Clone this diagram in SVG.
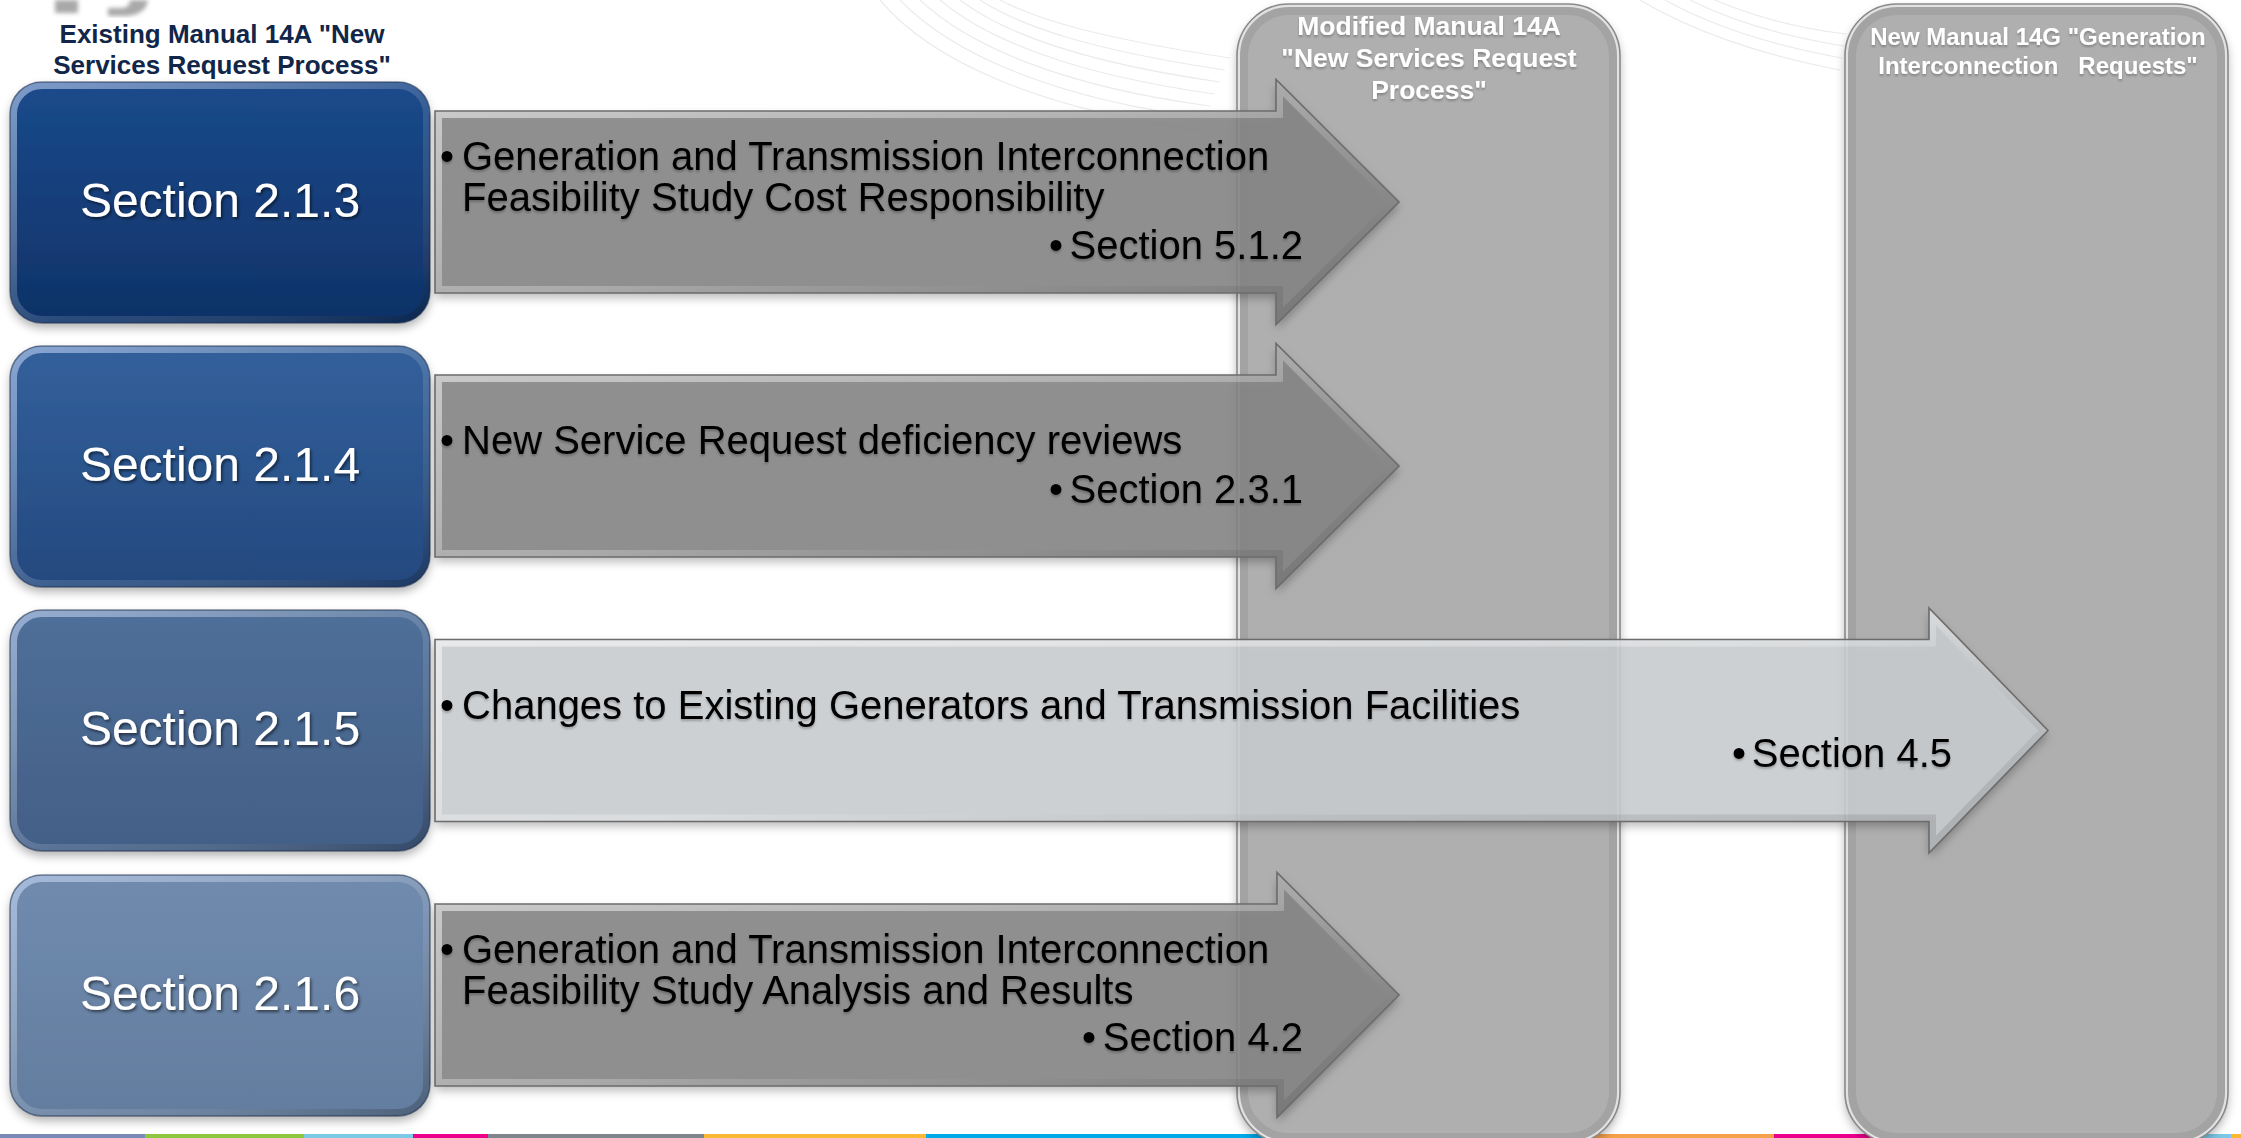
<svg xmlns="http://www.w3.org/2000/svg" xmlns:xlink="http://www.w3.org/1999/xlink" width="2241" height="1138" viewBox="0 0 2241 1138">
<style>
  .hdr { font-family: "Liberation Sans", Arial, sans-serif; font-weight: bold; text-anchor: middle; }
  .lbl { font-family: "Liberation Sans", Arial, sans-serif; font-size: 48px; fill: #ffffff; text-anchor: middle; }
  .atx { font-family: "Liberation Sans", Arial, sans-serif; font-size: 40px; fill: #000000; }
  .end { text-anchor: end; }
  .pre { white-space: pre; }
  .darkArrow { fill: #858585; fill-opacity: 0.88; }
  .lightArrow { fill: #cbced2; fill-opacity: 0.86; }
  .arrowEdge { fill: none; stroke: #6c6c6c; stroke-width: 1.6; }
  .bevel { fill: none; stroke: url(#bevelGrad); stroke-width: 14; }
  .boxEdge { fill: none; stroke: #1c2e4a; stroke-opacity: 0.55; stroke-width: 1.5; }
  .boxBevel { fill: none; stroke: url(#boxBevelGrad); stroke-width: 14; }
  .colFill { fill: #afafaf; }
  .colBand { fill: none; stroke: #a3a3a3; stroke-width: 22; }
  .colLight { fill: none; stroke: #e2e2e2; stroke-width: 6; }
  .colEdge { fill: none; stroke: #8a8a8a; stroke-width: 1.6; }
  .swirl { fill: none; stroke: #e9e9e9; stroke-width: 1.2; }
</style>
<defs>
  <linearGradient id="bevelGrad" x1="0" y1="0" x2="1" y2="1">
    <stop offset="0" stop-color="#ffffff" stop-opacity="0.55"/>
    <stop offset="0.5" stop-color="#ffffff" stop-opacity="0.25"/>
    <stop offset="1" stop-color="#000000" stop-opacity="0.12"/>
  </linearGradient>
  <linearGradient id="boxBevelGrad" x1="0" y1="0" x2="1" y2="1">
    <stop offset="0" stop-color="#cfe0ff" stop-opacity="0.55"/>
    <stop offset="0.55" stop-color="#ffffff" stop-opacity="0.12"/>
    <stop offset="1" stop-color="#000000" stop-opacity="0.25"/>
  </linearGradient>
  <linearGradient id="g1" x1="0" y1="0" x2="0" y2="1">
    <stop offset="0" stop-color="#1b4a8b"/>
    <stop offset="1" stop-color="#0f3268"/>
  </linearGradient>
  <linearGradient id="g2" x1="0" y1="0" x2="0" y2="1">
    <stop offset="0" stop-color="#33609b"/>
    <stop offset="1" stop-color="#24497f"/>
  </linearGradient>
  <linearGradient id="g3" x1="0" y1="0" x2="0" y2="1">
    <stop offset="0" stop-color="#4f6f99"/>
    <stop offset="1" stop-color="#435f87"/>
  </linearGradient>
  <linearGradient id="g4" x1="0" y1="0" x2="0" y2="1">
    <stop offset="0" stop-color="#708bae"/>
    <stop offset="1" stop-color="#637d9f"/>
  </linearGradient>
  <filter id="shadow" x="-10%" y="-10%" width="120%" height="125%">
    <feDropShadow dx="0" dy="5" stdDeviation="5" flood-color="#000000" flood-opacity="0.3"/>
  </filter>
  <filter id="txtShadow" x="-5%" y="-20%" width="110%" height="150%">
    <feDropShadow dx="1.5" dy="2" stdDeviation="1.5" flood-color="#000000" flood-opacity="0.55"/>
  </filter>
  <filter id="txtSoft" x="-5%" y="-20%" width="110%" height="150%">
    <feDropShadow dx="0" dy="2" stdDeviation="1.2" flood-color="#000000" flood-opacity="0.25"/>
  </filter>
  <filter id="blur2"><feGaussianBlur stdDeviation="2"/></filter>

  <path id="a1" d="M435,111 L1276,111 L1276,79.5 L1399,202 L1276,324.5 L1276,293 L435,293 Z"/>
  <path id="a2" d="M435,375 L1276,375 L1276,343.5 L1399,466 L1276,588.5 L1276,557 L435,557 Z"/>
  <path id="a3" d="M435,639.5 L1929,639.5 L1929,608 L2048,730.5 L1929,853 L1929,821.5 L435,821.5 Z"/>
  <path id="a4" d="M435,904 L1277,904 L1277,872.5 L1399,995 L1277,1117.5 L1277,1086 L435,1086 Z"/>
  <clipPath id="ca1"><use xlink:href="#a1"/></clipPath>
  <clipPath id="ca2"><use xlink:href="#a2"/></clipPath>
  <clipPath id="ca3"><use xlink:href="#a3"/></clipPath>
  <clipPath id="ca4"><use xlink:href="#a4"/></clipPath>

  <rect id="b1" x="10" y="82" width="420" height="241" rx="32"/>
  <rect id="b2" x="10" y="346" width="420" height="241" rx="32"/>
  <rect id="b3" x="10" y="610" width="420" height="241" rx="32"/>
  <rect id="b4" x="10" y="875" width="420" height="241" rx="32"/>
  <clipPath id="cb1"><use xlink:href="#b1"/></clipPath>
  <clipPath id="cb2"><use xlink:href="#b2"/></clipPath>
  <clipPath id="cb3"><use xlink:href="#b3"/></clipPath>
  <clipPath id="cb4"><use xlink:href="#b4"/></clipPath>

  <rect id="c1" x="1237" y="4" width="383" height="1140" rx="52"/>
  <rect id="c2" x="1845" y="4" width="383" height="1140" rx="52"/>
  <clipPath id="cc1"><use xlink:href="#c1"/></clipPath>
  <clipPath id="cc2"><use xlink:href="#c2"/></clipPath>
</defs>

<rect x="0" y="0" width="2241" height="1138" fill="#ffffff"/>

<g id="background-decor">
  <g opacity="0.9">
    <path class="swirl" d="M880,0 C930,60 1040,110 1200,130"/>
    <path class="swirl" d="M900,0 C950,52 1050,98 1205,118"/>
    <path class="swirl" d="M920,0 C968,45 1060,86 1210,106"/>
    <path class="swirl" d="M940,0 C985,38 1070,74 1215,94"/>
    <path class="swirl" d="M960,0 C1002,32 1080,62 1220,82"/>
    <path class="swirl" d="M980,0 C1020,26 1090,50 1225,70"/>
    <path class="swirl" d="M1000,0 C1038,20 1100,38 1230,58"/>
    <path class="swirl" d="M1640,0 C1690,30 1760,55 1840,70"/>
    <path class="swirl" d="M1665,0 C1710,25 1770,45 1842,58"/>
    <path class="swirl" d="M1690,0 C1730,20 1780,36 1844,46"/>
    <path class="swirl" d="M1715,0 C1750,15 1790,27 1846,34"/>
  </g>
  <g fill="#a9a9a9" filter="url(#blur2)">
    <path d="M55,0 L78,0 L78,13 L55,13 Z"/>
    <path d="M108,0 L148,0 C147,10 138,16 124,16 L108,16 L108,8 L122,8 C128,8 130,4 130,0 Z"/>
  </g>
  <g id="bottom-stripe">
    <rect x="0" y="1134" width="145" height="4" fill="#7b89b8"/>
    <rect x="145" y="1134" width="159" height="4" fill="#8dc63f"/>
    <rect x="304" y="1134" width="109" height="4" fill="#7ccbe6"/>
    <rect x="413" y="1134" width="75" height="4" fill="#ec008c"/>
    <rect x="488" y="1134" width="216" height="4" fill="#7f878c"/>
    <rect x="704" y="1134" width="222" height="4" fill="#fbb933"/>
    <rect x="926" y="1134" width="337" height="4" fill="#00a9e8"/>
    <rect x="1263" y="1134" width="329" height="4" fill="#8dc63f"/>
    <rect x="1592" y="1134" width="182" height="4" fill="#f5a04a"/>
    <rect x="1774" y="1134" width="114" height="4" fill="#ec008c"/>
    <rect x="1888" y="1134" width="301" height="4" fill="#7f878c"/>
    <rect x="2189" y="1134" width="42" height="4" fill="#7cc8e8"/>
    <rect x="2231" y="1134" width="10" height="4" fill="#fbb933"/>
  </g>
</g>

<g id="title-existing">
  <text class="hdr" x="222" y="43" font-size="26" fill="#112648">Existing Manual 14A "New</text>
  <text class="hdr" x="222" y="74" font-size="26" fill="#112648">Services Request Process"</text>
</g>

<g id="column-modified-14A">
  <g filter="url(#shadow)"><use xlink:href="#c1" class="colFill"/></g>
  <use xlink:href="#c1" class="colBand" clip-path="url(#cc1)"/>
  <use xlink:href="#c1" class="colLight" clip-path="url(#cc1)"/>
  <use xlink:href="#c1" class="colEdge"/>
  <g filter="url(#txtSoft)">
    <text class="hdr" x="1429" y="35" font-size="26.5" fill="#ffffff">Modified Manual 14A</text>
    <text class="hdr" x="1429" y="67" font-size="26.5" fill="#ffffff">"New Services Request</text>
    <text class="hdr" x="1429" y="99" font-size="26.5" fill="#ffffff">Process"</text>
  </g>
</g>

<g id="column-new-14G">
  <g filter="url(#shadow)"><use xlink:href="#c2" class="colFill"/></g>
  <use xlink:href="#c2" class="colBand" clip-path="url(#cc2)"/>
  <use xlink:href="#c2" class="colLight" clip-path="url(#cc2)"/>
  <use xlink:href="#c2" class="colEdge"/>
  <g filter="url(#txtSoft)">
    <text class="hdr" x="2038" y="45" font-size="24" fill="#ffffff">New Manual 14G "Generation</text>
    <text class="hdr pre" x="2038" y="74" font-size="24" fill="#ffffff">Interconnection   Requests"</text>
  </g>
</g>

<g id="box-2-1-3">
  <use xlink:href="#b1" fill="url(#g1)" filter="url(#shadow)"/>
  <use xlink:href="#b1" class="boxBevel" clip-path="url(#cb1)"/>
  <use xlink:href="#b1" class="boxEdge"/>
  <text class="lbl" x="220" y="217" filter="url(#txtShadow)">Section 2.1.3</text>
</g>
<g id="box-2-1-4">
  <use xlink:href="#b2" fill="url(#g2)" filter="url(#shadow)"/>
  <use xlink:href="#b2" class="boxBevel" clip-path="url(#cb2)"/>
  <use xlink:href="#b2" class="boxEdge"/>
  <text class="lbl" x="220" y="481" filter="url(#txtShadow)">Section 2.1.4</text>
</g>
<g id="box-2-1-5">
  <use xlink:href="#b3" fill="url(#g3)" filter="url(#shadow)"/>
  <use xlink:href="#b3" class="boxBevel" clip-path="url(#cb3)"/>
  <use xlink:href="#b3" class="boxEdge"/>
  <text class="lbl" x="220" y="745" filter="url(#txtShadow)">Section 2.1.5</text>
</g>
<g id="box-2-1-6">
  <use xlink:href="#b4" fill="url(#g4)" filter="url(#shadow)"/>
  <use xlink:href="#b4" class="boxBevel" clip-path="url(#cb4)"/>
  <use xlink:href="#b4" class="boxEdge"/>
  <text class="lbl" x="220" y="1010" filter="url(#txtShadow)">Section 2.1.6</text>
</g>

<g id="connectors">
  <g id="arrow-2-1-3">
    <use xlink:href="#a1" class="darkArrow" filter="url(#shadow)"/>
    <use xlink:href="#a1" class="bevel" clip-path="url(#ca1)"/>
    <use xlink:href="#a1" class="arrowEdge"/>
    <g filter="url(#txtSoft)">
      <text class="atx" x="440" y="170">•</text>
      <text class="atx" x="462" y="170">Generation and Transmission Interconnection</text>
      <text class="atx" x="462" y="211">Feasibility Study Cost Responsibility</text>
      <text class="atx" x="1049" y="259">•</text>
      <text class="atx end" x="1303" y="259">Section 5.1.2</text>
    </g>
  </g>
  <g id="arrow-2-1-4">
    <use xlink:href="#a2" class="darkArrow" filter="url(#shadow)"/>
    <use xlink:href="#a2" class="bevel" clip-path="url(#ca2)"/>
    <use xlink:href="#a2" class="arrowEdge"/>
    <g filter="url(#txtSoft)">
      <text class="atx" x="440" y="454">•</text>
      <text class="atx" x="462" y="454">New Service Request deficiency reviews</text>
      <text class="atx" x="1049" y="503">•</text>
      <text class="atx end" x="1303" y="503">Section 2.3.1</text>
    </g>
  </g>
  <g id="arrow-2-1-5">
    <use xlink:href="#a3" class="lightArrow" filter="url(#shadow)"/>
    <use xlink:href="#a3" class="bevel" clip-path="url(#ca3)"/>
    <use xlink:href="#a3" class="arrowEdge"/>
    <g filter="url(#txtSoft)">
      <text class="atx" x="440" y="719">•</text>
      <text class="atx" x="462" y="719">Changes to Existing Generators and Transmission Facilities</text>
      <text class="atx" x="1732" y="767">•</text>
      <text class="atx end" x="1952" y="767">Section 4.5</text>
    </g>
  </g>
  <g id="arrow-2-1-6">
    <use xlink:href="#a4" class="darkArrow" filter="url(#shadow)"/>
    <use xlink:href="#a4" class="bevel" clip-path="url(#ca4)"/>
    <use xlink:href="#a4" class="arrowEdge"/>
    <g filter="url(#txtSoft)">
      <text class="atx" x="440" y="963">•</text>
      <text class="atx" x="462" y="963">Generation and Transmission Interconnection</text>
      <text class="atx" x="462" y="1004">Feasibility Study Analysis and Results</text>
      <text class="atx" x="1082" y="1051">•</text>
      <text class="atx end" x="1303" y="1051">Section 4.2</text>
    </g>
  </g>
</g>
</svg>
